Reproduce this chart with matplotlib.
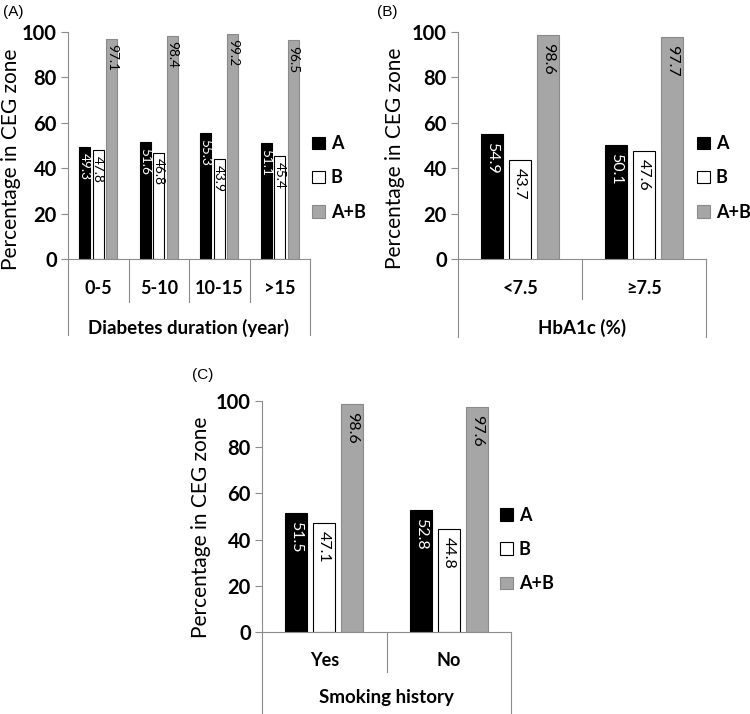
import matplotlib.pyplot as plt
from matplotlib.patches import Patch

plt.rcParams['font.family'] = ['Lato', 'DejaVu Sans']

# (A) diabetes duration
dur_cats = ['0-5', '5-10', '10-15', '>15']
dur_a = [49.3, 51.6, 55.3, 51.1]
dur_b = [47.8, 46.8, 43.9, 45.4]
dur_ab = [97.1, 98.4, 99.2, 96.5]

# (B) HbA1c
hba_cats = ['<7.5', '≥7.5']
hba_a = [54.9, 50.1]
hba_b = [43.7, 47.6]
hba_ab = [98.6, 97.7]

# (C) smoking history
smk_cats = ['Yes', 'No']
smk_a = [51.5, 52.8]
smk_b = [47.1, 44.8]
smk_ab = [98.6, 97.6]

series_names = ['A', 'B', 'A+B']

W, H = 750, 714
fig = plt.figure(figsize=(W / 100, H / 100), dpi=100)

line_col = '#8c8c8c'
fills = ['black', 'white', '#a6a6a6']
edges = ['black', 'black', '#8a8a8a']
txt_cols = ['white', 'black', 'black']


def panel(left, right, top, bottom, cats, a, b, ab, xlabel, letter, letter_xy,
          val_size, val_pad, inner_len, outer_len, cat_off, xlab_off, ylab_x, ylab_y, leg_x):
    ax = fig.add_axes([left / W, 1 - bottom / H, (right - left) / W, (bottom - top) / H])
    h = bottom - top
    n = len(cats)
    x = list(range(n))
    width = 0.18
    offs = [-0.225, 0, 0.225]
    for vals, off, fc, ec, tc in zip([a, b, ab], offs, fills, edges, txt_cols):
        xs = [i + off for i in x]
        ax.bar(xs, vals, width=width, color=fc, edgecolor=ec, linewidth=0.8, zorder=2)
        for xi, v in zip(xs, vals):
            ax.text(xi, v - val_pad, '%.1f' % v, rotation=270, ha='center', va='top',
                    color=tc, fontsize=val_size, zorder=3)
    ax.set_xlim(-0.5, n - 0.5)
    ax.set_ylim(0, 100)
    ax.set_yticks(range(0, 101, 20))
    ax.tick_params(axis='y', labelsize=14.5, length=5, width=0.8, color=line_col, pad=3)
    for lab in ax.get_yticklabels():
        lab.set_fontweight('bold')
    ax.set_xticks([])
    for s in ['top', 'right']:
        ax.spines[s].set_visible(False)
    for s in ['left', 'bottom']:
        ax.spines[s].set_color(line_col)
        ax.spines[s].set_linewidth(0.8)

    tr = ax.get_xaxis_transform()
    # category dividers below the axis
    for i in range(n + 1):
        ln = outer_len if i in (0, n) else inner_len
        ax.plot([i - 0.5, i - 0.5], [0, -ln / h], color=line_col, lw=0.8,
                transform=tr, clip_on=False)
    for i, c in enumerate(cats):
        ax.text(i, -cat_off / h, c, transform=tr, ha='center', va='center',
                fontsize=13, fontweight='bold')
    ax.text((n - 1) / 2, -xlab_off / h, xlabel, transform=tr, ha='center', va='center',
            fontsize=13.5, fontweight='bold')

    fig.text(ylab_x / W, 1 - ylab_y / H, 'Percentage in CEG zone', rotation=90,
             ha='center', va='center', fontsize=15)

    handles = [Patch(facecolor=fc, edgecolor=ec, linewidth=0.8) for fc, ec in zip(fills, edges)]
    leg_y = top + h * (1 - 0.357)
    leg = ax.legend(handles, series_names, loc='center left',
                    bbox_to_anchor=(leg_x / W, 1 - leg_y / H), bbox_transform=fig.transFigure,
                    frameon=False, fontsize=13, handlelength=0.7, handleheight=0.7,
                    handletextpad=0.35, labelspacing=0.95, borderpad=0, borderaxespad=0)
    for t in leg.get_texts():
        t.set_fontweight('bold')

    fig.text(letter_xy[0] / W, 1 - letter_xy[1] / H, letter, ha='left', va='center',
             fontsize=11, family='Liberation Sans')
    return ax


panel(68, 310, 32, 259, dur_cats, dur_a, dur_b, dur_ab, 'Diabetes duration (year)',
      '(A)', (3, 12), 9.8, 2.5, 43, 76, 29, 69, 11, 159, 312)
panel(458, 706, 32, 259, hba_cats, hba_a, hba_b, hba_ab, 'HbA1c (%)',
      '(B)', (377, 12), 11.5, 3.5, 40, 78, 29, 69, 395, 158, 697)
panel(262, 511, 401, 632, smk_cats, smk_a, smk_b, smk_ab, 'Smoking history',
      '(C)', (192, 375), 11.5, 3.5, 40, 82, 28, 66, 201, 527, 500)

fig.savefig('out.png', dpi=100)
